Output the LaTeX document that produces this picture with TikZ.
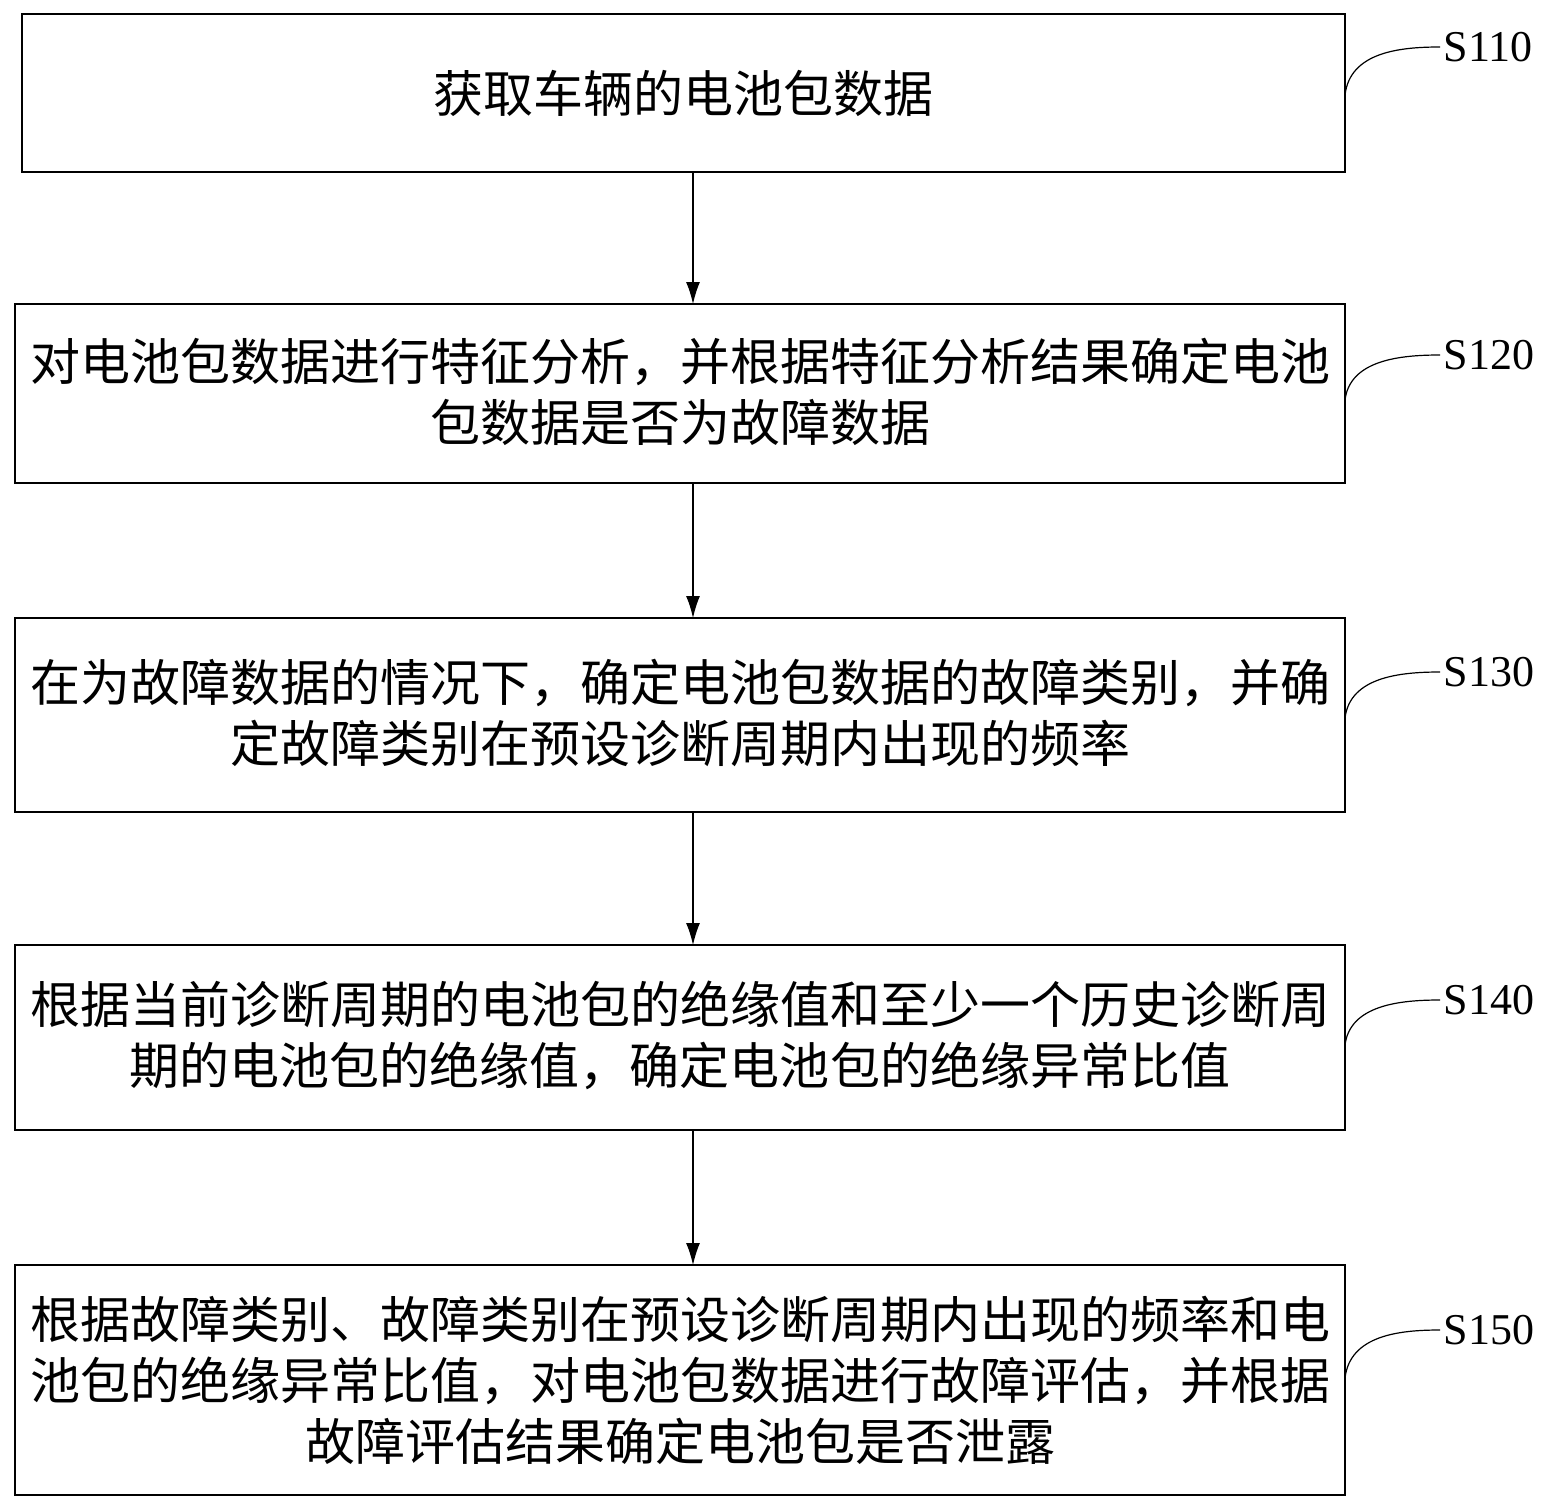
\documentclass[tikz,border=0pt]{standalone}
\usepackage{fontspec}
\setmainfont{Liberation Serif}
\newfontfamily\cjk{Noto Sans CJK SC}
\begin{document}
\begin{tikzpicture}[x=1pt,y=-1pt,
  box/.style={draw,line width=1.2pt},
  txt/.style={font=\cjk\fontsize{50}{61}\selectfont,align=center},
  lab/.style={font=\fontsize{44}{44}\selectfont,anchor=west},
  arr/.style={-{Latex[length=22pt,width=14pt]},line width=1.2pt},
  lead/.style={line width=1.2pt}]
\usetikzlibrary{arrows.meta}
\useasboundingbox (0,0) rectangle (1563,1509);
\draw[box] (22,14) rectangle (1345,172);
\draw[box] (15,304) rectangle (1345,483);
\draw[box] (15,618) rectangle (1345,812);
\draw[box] (15,945) rectangle (1345,1130);
\draw[box] (15,1265) rectangle (1345,1495);
\node[txt] (t1) at (683,93) {获取车辆的电池包数据};
\node[txt] (t2) at (680,392) {对电池包数据进行特征分析，并根据特征分析结果确定电池\\包数据是否为故障数据};
\node[txt] (t3) at (680,713) {在为故障数据的情况下，确定电池包数据的故障类别，并确\\定故障类别在预设诊断周期内出现的频率};
\node[txt] (t4) at (680,1035) {根据当前诊断周期的电池包的绝缘值和至少一个历史诊断周\\期的电池包的绝缘值，确定电池包的绝缘异常比值};
\node[txt] (t5) at (680,1380) {根据故障类别、故障类别在预设诊断周期内出现的频率和电\\池包的绝缘异常比值，对电池包数据进行故障评估，并根据\\故障评估结果确定电池包是否泄露};
\coordinate (b1) at (693,172); \coordinate (a2) at (693,304);
\coordinate (b2) at (693,483); \coordinate (a3) at (693,618);
\coordinate (b3) at (693,812); \coordinate (a4) at (693,945);
\coordinate (b4) at (693,1130); \coordinate (a5) at (693,1265);
\draw[arr] (b1) -- (a2);
\draw[arr] (b2) -- (a3);
\draw[arr] (b3) -- (a4);
\draw[arr] (b4) -- (a5);
\foreach \n/\y/\yl in {S110/95/47,S120/400/355,S130/718/672,S140/1045/1000,S150/1378/1330}{
  \node[lab] (\n) at (1440,\yl) {\n};
  \draw[lead] (1345,\y) .. controls (1350,\yl+5) and (1400,\yl) .. (\n.west);
}
\end{tikzpicture}
\end{document}
